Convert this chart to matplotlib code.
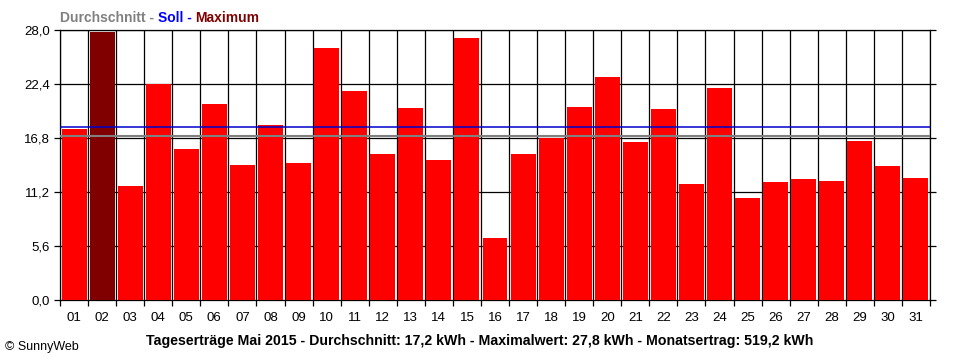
import numpy as np
import matplotlib
matplotlib.use("Agg")
import matplotlib.pyplot as plt

# Tagesertraege Mai 2015 (kWh)
days = ["01", "02", "03", "04", "05", "06", "07", "08", "09", "10",
        "11", "12", "13", "14", "15", "16", "17", "18", "19", "20",
        "21", "22", "23", "24", "25", "26", "27", "28", "29", "30", "31"]
ertrag = [17.7, 27.8, 11.8, 22.4, 15.7, 20.3, 14.0, 18.15, 14.2, 26.1,
          21.7, 15.1, 19.9, 14.5, 27.2, 6.45, 15.1, 16.8, 20.0, 23.15,
          16.4, 19.85, 12.05, 22.0, 10.6, 12.25, 12.55, 12.35, 16.5, 13.9, 12.65]
durchschnitt_linie = 16.97
soll_linie = 17.9
yticks = [0.0, 5.6, 11.2, 16.8, 22.4, 28.0]
caption = ("Tageserträge Mai 2015 - Durchschnitt: 17,2 kWh - "
           "Maximalwert: 27,8 kWh - Monatsertrag: 519,2 kWh")

plt.rcParams["font.family"] = ["Liberation Sans", "DejaVu Sans"]

fig = plt.figure(figsize=(9.6, 3.6), dpi=100)
ax = fig.add_axes([60 / 960, 60 / 360, 870 / 960, 270 / 360])

x = np.arange(len(days))
imax = int(np.argmax(ertrag))
colors = ["#ff0000"] * len(days)
colors[imax] = "#800000"
ax.bar(x, ertrag, width=0.89, color=colors, zorder=3)

# grid
for yv in yticks[1:]:
    ax.axhline(yv, color="black", lw=0.9, zorder=1)
for b in np.arange(-0.5, len(days), 1.0):
    ax.axvline(b, color="black", lw=0.9, zorder=1)

ax.axhline(soll_linie, color="#0000cc", lw=1.1, zorder=4)
ax.axhline(durchschnitt_linie, color="#808080", lw=1.5, zorder=4)

ax.set_xlim(-0.5, len(days) - 0.5)
ax.set_ylim(0, 28.0)
ax.set_yticks(yticks)
ax.set_yticklabels([f"{v:.1f}".replace(".", ",") for v in yticks], fontsize=9.5)
ax.tick_params(axis="y", direction="out", length=4, width=0.9, right=True, pad=3)
ax.set_xticks(np.arange(-0.5, len(days), 1.0))
ax.set_xticklabels([])
ax.tick_params(axis="x", direction="out", length=4, width=0.9)
for i, d in enumerate(days):
    ax.text(i, -0.045, d, transform=ax.get_xaxis_transform(), ha="center", va="top",
            fontsize=9.5)
for s in ax.spines.values():
    s.set_linewidth(0.9)

# legend line in header
fig.canvas.draw()
r = fig.canvas.get_renderer()
xpos = 60 / 960
for txt, col in [("Durchschnitt - ", "#808080"), ("Soll - ", "#0000ff"), ("Maximum", "#800000")]:
    t = fig.text(xpos, 1 - 18 / 360, txt, color=col, fontsize=10, fontweight="bold",
                 va="center", ha="left")
    w = t.get_window_extent(r).width
    xpos += w / fig.bbox.width

fig.text(0.5, 1 - 341 / 360, caption, ha="center", va="center", fontsize=10.2,
         fontweight="bold")
fig.text(5 / 960, 1 - 347 / 360, "© SunnyWeb", ha="left", va="center", fontsize=9)

fig.savefig("out.png", dpi=100)
